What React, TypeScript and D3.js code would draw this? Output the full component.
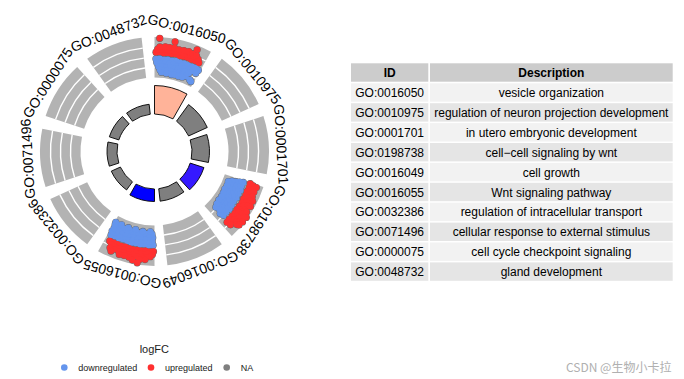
import React from 'react';
import * as d3 from 'd3';

const goIds = ['GO:0016050', 'GO:0010975', 'GO:0001701', 'GO:0198738', 'GO:0016049', 'GO:0016055', 'GO:0032386', 'GO:0071496', 'GO:0000075', 'GO:0048732'];
const descriptions = ['vesicle organization', 'regulation of neuron projection development', 'in utero embryonic development', 'cell\u2212cell signaling by wnt', 'cell growth', 'Wnt signaling pathway', 'regulation of intracellular transport', 'cellular response to external stimulus', 'cell cycle checkpoint signaling', 'gland development'];
const negLog10AdjP = [11.4, 8.2, 7.0, 5.8, 5.0, 5.0, 4.0, 4.0, 4.0, 4.0];
const zScores: (number | null)[] = [1.2, null, null, -2.85, null, -3.0, null, null, null, null];

// [position within term (0-1), logFC]
const genesGO0016050: [number, number][] = [
  [0.03,-0.5],[0.11,-0.45],[0.2,-0.55],[0.28,-0.48],[0.37,-0.52],[0.46,-0.44],[0.55,-0.58],[0.63,-0.47],[0.72,-0.53],[0.81,-0.5],[0.89,-0.42],[0.96,-0.56],
  [0.05,-1.05],[0.14,-1.12],[0.23,-0.98],[0.32,-1.08],[0.41,-1.02],[0.5,-1.15],[0.59,-0.96],[0.68,-1.1],[0.77,-1.04],[0.86,-1.0],[0.94,-1.12],
  [0.09,-1.62],[0.18,-1.55],[0.27,-1.68],[0.36,-1.58],[0.45,-1.65],[0.54,-1.52],[0.63,-1.7],[0.71,-1.6],[0.8,-1.56],
  [0.13,-2.1],[0.22,-2.18],[0.31,-2.05],[0.4,-2.15],[0.49,-2.22],[0.58,-2.08],[0.67,-2.14],[0.76,-2.2],
  [0.17,-2.45],[0.29,-2.52],[0.42,-2.58],[0.5,-2.5],[0.6,-2.55],[0.69,-2.48],[0.88,-2.4],[0.93,-2.58],
  [0.03,0.5],[0.1,0.55],[0.18,0.45],[0.26,0.52],[0.34,0.48],[0.42,0.56],[0.5,0.46],[0.58,0.5],[0.66,0.54],[0.74,0.47],[0.82,0.52],[0.9,0.48],
  [0.06,0.95],[0.14,0.9],[0.22,1.0],[0.3,0.92],[0.38,0.98],[0.46,0.94],[0.54,1.02],[0.62,0.9],[0.7,0.96],[0.78,1.0],[0.86,0.88],
  [0.1,1.32],[0.2,1.4],[0.28,1.36],[0.37,1.42],[0.46,1.3],[0.55,1.38],[0.64,1.45],[0.72,1.35],[0.8,1.3],
  [0.09,2.6],[0.36,2.35],[0.77,2.15],
];
const genesGO0198738: [number, number][] = [
  [0.04,-0.3],[0.12,-0.36],[0.21,-0.26],[0.3,-0.33],[0.39,-0.28],[0.48,-0.38],[0.57,-0.3],[0.66,-0.25],[0.75,-0.34],[0.84,-0.3],
  [0.06,-0.85],[0.15,-0.9],[0.24,-0.8],[0.33,-0.88],[0.42,-0.82],[0.51,-0.92],[0.6,-0.86],[0.69,-0.8],[0.78,-0.9],[0.86,-0.84],
  [0.08,-1.4],[0.17,-1.35],[0.26,-1.45],[0.35,-1.38],[0.44,-1.42],[0.53,-1.34],[0.62,-1.46],[0.71,-1.4],[0.8,-1.36],
  [0.1,-1.95],[0.19,-2.0],[0.28,-1.9],[0.37,-1.98],[0.46,-1.92],[0.55,-2.02],[0.64,-1.94],[0.73,-1.88],[0.82,-1.96],
  [0.14,-2.45],[0.24,-2.38],[0.34,-2.44],[0.44,-2.36],[0.54,-2.28],[0.64,-2.32],[0.74,-2.2],
  [0.02,0.75],[0.1,0.8],[0.18,0.72],[0.26,0.78],[0.34,0.74],[0.42,0.82],[0.5,0.76],[0.58,0.72],[0.66,0.8],[0.74,0.76],[0.82,0.74],[0.89,0.8],
  [0.04,1.25],[0.12,1.2],[0.2,1.3],[0.28,1.22],[0.36,1.28],[0.44,1.24],[0.52,1.32],[0.6,1.2],[0.68,1.26],[0.76,1.3],[0.84,1.18],
  [0.05,1.8],[0.14,1.7],[0.23,1.76],[0.32,1.72],[0.41,1.8],[0.5,1.74],[0.59,1.78],[0.68,1.7],[0.77,1.76],
  [0.3,2.1],[0.4,2.18],[0.52,2.12],[0.62,2.2],[0.72,2.15],[0.8,2.1],
  [0.6,2.55],[0.7,2.5],[0.78,2.4],[0.88,1.45],
];
const genesGO0016055: [number, number][] = [
  [0.03,-0.35],[0.12,-0.3],[0.21,-0.4],[0.3,-0.32],[0.39,-0.38],[0.48,-0.3],[0.57,-0.36],[0.66,-0.42],[0.75,-0.33],[0.84,-0.37],[0.93,-0.3],
  [0.05,-0.9],[0.14,-0.85],[0.23,-0.95],[0.32,-0.88],[0.41,-0.92],[0.5,-0.84],[0.59,-0.96],[0.68,-0.9],[0.77,-0.86],[0.86,-0.94],[0.95,-0.88],
  [0.04,-1.45],[0.13,-1.5],[0.22,-1.4],[0.31,-1.48],[0.4,-1.42],[0.49,-1.52],[0.58,-1.44],[0.67,-1.38],[0.76,-1.5],[0.85,-1.46],[0.94,-1.4],
  [0.06,-2.0],[0.15,-1.95],[0.24,-2.05],[0.33,-1.98],[0.42,-2.02],[0.51,-1.94],[0.6,-2.06],[0.69,-2.0],[0.78,-1.96],[0.87,-2.04],[0.96,-1.98],
  [0.1,-2.35],[0.28,-2.3],[0.46,-2.36],[0.64,-2.32],[0.82,-2.35],[0.97,-2.3],
  [0.02,0.6],[0.1,0.65],[0.18,0.56],[0.26,0.62],[0.34,0.58],[0.42,0.66],[0.5,0.6],[0.58,0.55],[0.66,0.64],[0.74,0.6],[0.82,0.58],[0.9,0.62],
  [0.04,1.05],[0.12,1.0],[0.2,1.1],[0.28,1.02],[0.36,1.08],[0.44,1.04],[0.52,1.12],[0.6,1.0],[0.68,1.06],[0.76,1.1],[0.84,0.98],
  [0.08,1.4],[0.16,1.5],[0.25,1.46],[0.33,1.52],[0.41,1.48],[0.5,1.55],[0.58,1.45],[0.67,1.5],[0.76,1.44],[0.84,1.52],
  [0.17,1.88],[0.27,1.95],[0.46,1.9],[0.55,1.85],[0.64,1.92],[0.8,1.9],
  [0.3,2.5],[0.39,2.22],
];

const legendLabels = ['downregulated', 'upregulated', 'NA'];
const legendColors = ['#6495ED', '#FF3030', '#7F7F7F'];
const tableHeaders = ['ID', 'Description'];

const termGenes: Record<string, [number, number][]> = {
  'GO:0016050': genesGO0016050,
  'GO:0198738': genesGO0198738,
  'GO:0016055': genesGO0016055,
};

const FONT = '"Liberation Sans", Arial, sans-serif';

export default function App() {
  const W = 684, H = 379;
  const cx = 154.5, cy = 151.5;
  const n = goIds.length;
  const angle = d3.scaleLinear().domain([0, n]).range([0, 2 * Math.PI]);
  const slot = angle(1);
  const span = slot * 0.82;
  const barR = d3.scaleLinear().domain([0, d3.max(negLog10AdjP) as number]).range([37.5, 66]);
  const lfcR = d3.scaleLinear().domain([-3, 3]).range([76, 116]);
  const ringIn = 74, ringOut = 114.5;
  const gridR = [84, 94, 104];
  const arcGen = d3.arc();
  const zColor = (z: number | null) => {
    if (z == null) return '#7F7F7F';
    if (z >= 0) return d3.interpolateLab('#FFFFFF', '#FF0000')(Math.min(1, z / 3));
    return d3.interpolateLab('#FFFFFF', '#0000FF')(Math.min(1, -z / 3));
  };
  const pt = (a: number, r: number) => [cx + r * Math.sin(a), cy - r * Math.cos(a)];

  const colX = [351, 430];
  const colW = [77.3, 242.7];
  const headY = 63.3, rowH = 18.4, pitch = 19.9, row0 = 83.3;

  return (
    <svg width={W} height={H} style={{ position: 'absolute', left: 0, top: 0, display: 'block', background: '#fff' }} fontFamily={FONT}>
      <rect x={0} y={0} width={W} height={H} fill="#fff" />
      <g>
        {goIds.map((id, i) => {
          const s = angle(i), e = s + span;
          return (
            <g key={id}>
              <path transform={`translate(${cx},${cy})`} fill="#B3B3B3"
                d={arcGen({ innerRadius: ringIn, outerRadius: ringOut, startAngle: s, endAngle: e } as any) as string} />
              {gridR.map((r) => (
                <path key={r} transform={`translate(${cx},${cy})`} fill="#fff"
                  d={arcGen({ innerRadius: r - 0.7, outerRadius: r + 0.7, startAngle: s, endAngle: e } as any) as string} />
              ))}
              <path transform={`translate(${cx},${cy})`} fill={zColor(zScores[i])} stroke="#000" strokeWidth={0.9}
                d={arcGen({ innerRadius: barR(0), outerRadius: barR(negLog10AdjP[i]), startAngle: s, endAngle: e } as any) as string} />
            </g>
          );
        })}
        {goIds.map((id, i) => {
          const genes = termGenes[id];
          if (!genes) return null;
          const s = angle(i);
          const pos = genes.map(([f, l]) => {
            const [x, y] = pt(s + f * span, lfcR(l));
            return { x, y, l };
          });
          return (
            <g key={'g' + id}>
              {pos.map((p, k) => <circle key={'u' + k} cx={p.x} cy={p.y} r={3.6} fill="#666" />)}
              {pos.map((p, k) => <circle key={'c' + k} cx={p.x} cy={p.y} r={3.2} fill={p.l > 0 ? legendColors[1] : legendColors[0]} />)}
            </g>
          );
        })}
        {goIds.map((id, i) => {
          const a = angle(i) + span / 2;
          const [x, y] = pt(a, 127);
          const deg = (a * 180) / Math.PI;
          return (
            <text key={'l' + id} x={x} y={y} transform={`rotate(${deg},${x},${y})`} textAnchor="middle"
              dominantBaseline="central" fontSize={14} fill="#000">{id}</text>
          );
        })}
      </g>

      <g>
        {tableHeaders.map((h, c) => (
          <g key={h}>
            <rect x={colX[c]} y={headY} width={colW[c]} height={rowH} fill="#CCCCCC" />
            <text x={colX[c] + colW[c] / 2} y={headY + rowH / 2 + 0.5} textAnchor="middle" dominantBaseline="central"
              fontSize={12} fontWeight="bold" fill="#000">{h}</text>
          </g>
        ))}
        {goIds.map((id, i) => {
          const y = row0 + i * pitch;
          const fill = i % 2 === 0 ? '#F2F2F2' : '#E5E5E5';
          return (
            <g key={'r' + id}>
              <rect x={colX[0]} y={y} width={colW[0]} height={rowH} fill={fill} />
              <rect x={colX[1]} y={y} width={colW[1]} height={rowH} fill={fill} />
              <text x={colX[0] + colW[0] / 2} y={y + rowH / 2 + 0.5} textAnchor="middle" dominantBaseline="central" fontSize={12} fill="#000">{id}</text>
              <text x={colX[1] + colW[1] / 2} y={y + rowH / 2 + 0.5} textAnchor="middle" dominantBaseline="central" fontSize={12} fill="#000">{descriptions[i]}</text>
            </g>
          );
        })}
      </g>

      <g>
        <text x={154.3} y={349} textAnchor="middle" dominantBaseline="central" fontSize={11} fill="#1a1a1a">logFC</text>
        {legendLabels.map((lab, k) => {
          const dotX = [64.3, 151, 226.7][k];
          return (
            <g key={lab}>
              <circle cx={dotX} cy={367.5} r={3.3} fill={legendColors[k]} />
              <text x={dotX + 14} y={367.8} dominantBaseline="central" fontSize={9} fill="#1a1a1a">{lab}</text>
            </g>
          );
        })}
      </g>

      <text x={566} y={366} dominantBaseline="central" fontSize={12} fill="#b0b0b0"
        fontFamily='"Noto Sans CJK SC", "Liberation Sans", sans-serif'>CSDN @生物小卡拉</text>
    </svg>
  );
}
